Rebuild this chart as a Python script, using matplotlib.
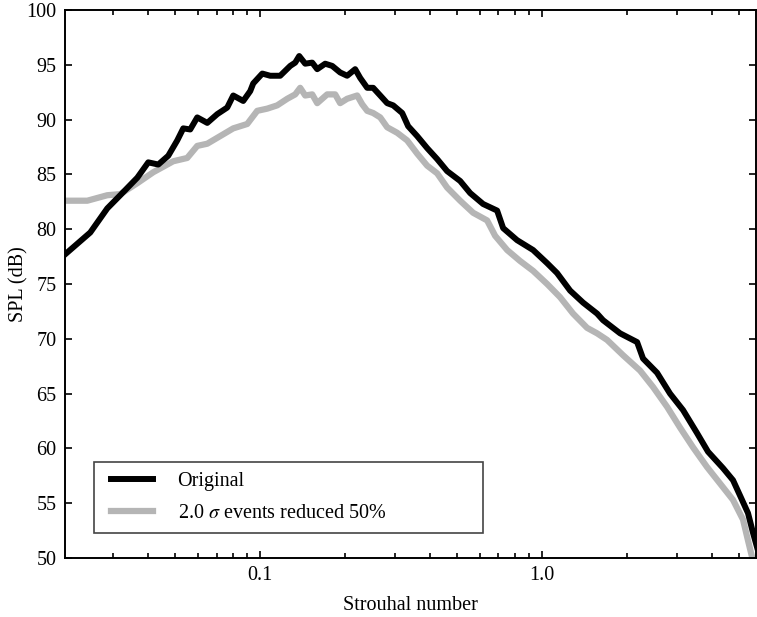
import matplotlib
matplotlib.use('Agg')
import matplotlib.pyplot as plt
from matplotlib.lines import Line2D
from matplotlib.legend_handler import HandlerLine2D
from matplotlib.ticker import LogLocator, NullFormatter

plt.rcParams['font.family'] = ['Liberation Serif', 'DejaVu Serif']
plt.rcParams['mathtext.fontset'] = 'stix'
plt.rcParams['font.size'] = 14.5

# Original spectrum
st_orig = [0.0203, 0.02495, 0.02867, 0.03187, 0.03664, 0.04007, 0.04348, 0.04718,
           0.05077, 0.05333, 0.05645, 0.05978, 0.06488, 0.07041, 0.07638, 0.08022,
           0.08704, 0.09216, 0.09445, 0.1017, 0.1085, 0.1177, 0.1278, 0.1331,
           0.1375, 0.1444, 0.1529, 0.1593, 0.1700, 0.1800, 0.1921, 0.2034,
           0.2172, 0.2263, 0.2396, 0.2516, 0.2665, 0.2821, 0.2962, 0.3189,
           0.3348, 0.3603, 0.3910, 0.4243, 0.4603, 0.5120, 0.5555, 0.6176,
           0.6925, 0.7274, 0.8152, 0.9292, 1.042, 1.130, 1.257, 1.398,
           1.567, 1.645, 1.891, 2.173, 2.281, 2.558, 2.844, 3.162,
           3.545, 3.878, 4.384, 4.757, 5.120, 5.376, 5.601, 5.786]
spl_orig = [77.7, 79.7, 81.9, 83.1, 84.7, 86.1, 85.9, 86.7,
            88.1, 89.2, 89.1, 90.2, 89.7, 90.5, 91.1, 92.2,
            91.7, 92.6, 93.3, 94.2, 94.0, 94.0, 94.9, 95.2,
            95.8, 95.1, 95.2, 94.6, 95.1, 94.9, 94.3, 94.0,
            94.6, 93.8, 92.9, 92.9, 92.2, 91.5, 91.3, 90.6,
            89.4, 88.5, 87.4, 86.4, 85.3, 84.4, 83.3, 82.3,
            81.7, 80.1, 79.0, 78.1, 76.9, 76.0, 74.4, 73.3,
            72.3, 71.7, 70.5, 69.7, 68.2, 66.9, 65.0, 63.5,
            61.4, 59.7, 58.2, 57.1, 55.3, 54.1, 52.3, 51.0]

# 2.0 sigma events reduced 50%
st_red = [0.0203, 0.02435, 0.02867, 0.03187, 0.03664, 0.04175, 0.04914, 0.05508,
          0.05978, 0.06488, 0.07216, 0.08022, 0.08993, 0.09759, 0.1059, 0.1149,
          0.1247, 0.1331, 0.1386, 0.1444, 0.1529, 0.1593, 0.1728, 0.1845,
          0.1921, 0.2034, 0.2208, 0.2300, 0.2396, 0.2516, 0.2665, 0.2821,
          0.3060, 0.3321, 0.3603, 0.3910, 0.4243, 0.4603, 0.5120, 0.5693,
          0.6383, 0.6813, 0.7516, 0.8354, 0.9292, 1.042, 1.158, 1.288,
          1.444, 1.567, 1.700, 1.938, 2.226, 2.476, 2.775, 3.086,
          3.431, 3.847, 4.278, 4.757, 5.162, 5.376, 5.555, 5.75]
spl_red = [82.6, 82.6, 83.1, 83.2, 84.2, 85.2, 86.2, 86.5,
           87.6, 87.8, 88.5, 89.2, 89.6, 90.8, 91.0, 91.3,
           91.9, 92.3, 92.9, 92.2, 92.3, 91.5, 92.3, 92.3,
           91.5, 91.9, 92.2, 91.4, 90.8, 90.6, 90.2, 89.3,
           88.8, 88.1, 86.9, 85.8, 85.1, 83.8, 82.6, 81.5,
           80.8, 79.4, 78.1, 77.1, 76.2, 75.0, 73.8, 72.3,
           71.0, 70.5, 69.9, 68.5, 67.1, 65.6, 63.8, 61.9,
           60.1, 58.3, 56.8, 55.3, 53.5, 51.6, 50.1, 49.0]

fig = plt.figure(figsize=(7.57, 6.17), dpi=100)
ax = fig.add_axes([0.0859, 0.0956, 0.9128, 0.8882])

ax.plot(st_red, spl_red, color='#b5b5b5', lw=4.5, zorder=2,
        label=r'2.0 $\sigma$ events reduced 50%')
ax.plot(st_orig, spl_orig, color='black', lw=4.3, zorder=3, label='Original')

ax.set_xscale('log')
ax.set_xlim(0.0203, 5.74)
ax.set_ylim(50, 100)
ax.set_yticks(range(50, 101, 5))
ax.set_xticks([0.1, 1.0])
ax.set_xticklabels(['0.1', '1.0'])
ax.xaxis.set_minor_locator(LogLocator(base=10, subs=range(2, 10)))
ax.xaxis.set_minor_formatter(NullFormatter())

ax.tick_params(which='both', direction='in', top=True, right=True, width=1.2)
ax.tick_params(which='major', length=5, pad=6)
ax.tick_params(which='minor', length=3.5)
for sp in ax.spines.values():
    sp.set_linewidth(1.4)

ax.set_xlabel('Strouhal number', labelpad=8)
ax.set_ylabel('SPL (dB)', labelpad=-1.5)

handles, labels = ax.get_legend_handles_labels()
leg = ax.legend(handles[::-1], labels[::-1], loc='lower left',
                bbox_to_anchor=(0.042, 0.0456, 0.563, 0.128), mode='expand',
                borderaxespad=0, fancybox=False, framealpha=1,
                handlelength=2.45, handletextpad=1.2, labelspacing=0.65,
                borderpad=0.5, handler_map={Line2D: HandlerLine2D(xpad=0.35)})
leg.get_frame().set_edgecolor('#444444')
leg.get_frame().set_linewidth(1.2)

fig.savefig('out.png', dpi=100)
